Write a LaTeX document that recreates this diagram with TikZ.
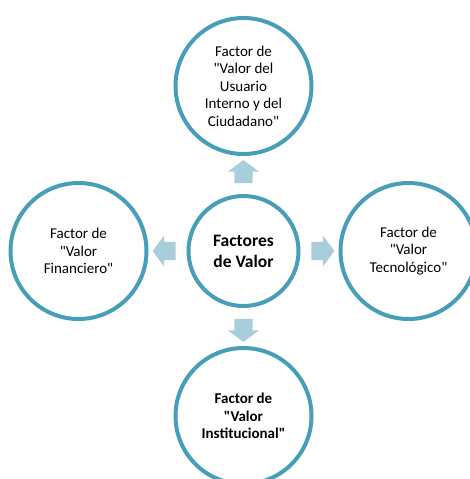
\documentclass[tikz,border=0pt]{standalone}
\usepackage{fontspec}
\setmainfont{Carlito}[Ligatures=TeXOff]
\usetikzlibrary{shapes.arrows,calc}
\definecolor{ringblue}{RGB}{72,158,184}
\definecolor{arrowblue}{RGB}{168,206,220}

\begin{document}
\begin{tikzpicture}[x=1pt,y=1pt,node distance=165pt,
    factor/.style={circle,draw=ringblue,line width=4pt,fill=white,
      minimum size=136pt,inner sep=0pt,align=center,
      font=\fontsize{15}{17.5}\selectfont},
    hub/.style={factor,minimum size=110pt,
      font=\bfseries\fontsize{17.5}{21}\selectfont},
    blockarrow/.style={single arrow,fill=arrowblue,draw=none,
      inner xsep=0pt,inner ysep=9pt,minimum height=23pt,
      single arrow head extend=6.5pt,single arrow tip angle=107}]
  \useasboundingbox (0,0) rectangle (470,-479);

  \node[hub]    (V)                 at (243.5,-251) {Factores\\de Valor};
  \node[factor] (U) [above of=V] {Factor de\\"Valor del\\Usuario\\Interno y del\\Ciudadano"};
  \node[factor] (F) [left of=V]  {Factor de\\"Valor\\Financiero"};
  \node[factor] (T) [right of=V] {Factor de\\"Valor\\Tecnológico"};
  \node[factor] (I) [below of=V] {\bfseries Factor de\\\bfseries "Valor\\\bfseries Institucional"};

%  block arrows between the rings
  \node[blockarrow,rotate=90]  (aU) at ($(V.north)!0.5!(U.south)$) {};
  \node[blockarrow,rotate=180] (aF) at ($(V.west)!0.5!(F.east)$) {};
  \node[blockarrow]            (aT) at ($(V.east)!0.5!(T.west)$) {};
  \node[blockarrow,rotate=270] (aI) at ($(V.south)!0.5!(I.north)$) {};

\end{tikzpicture}
\end{document}
